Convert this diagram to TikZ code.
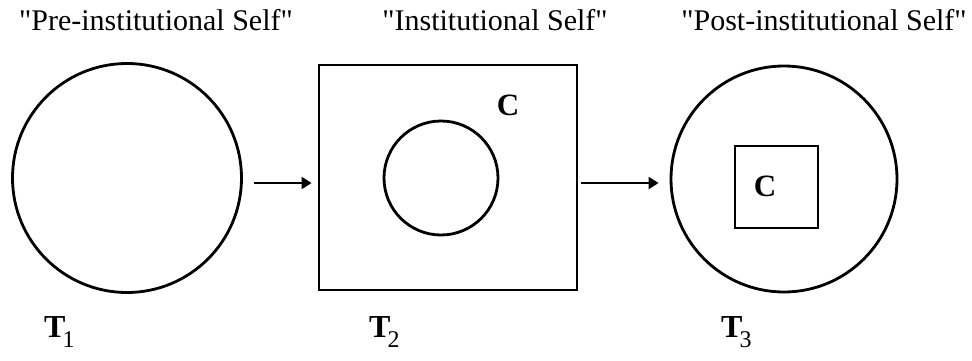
\documentclass[tikz,border=0pt]{standalone}
\usepackage{fontspec}
\setmainfont{Liberation Serif}[Ligatures=TeXOff]
\usetikzlibrary{arrows.meta}
\begin{document}
\begin{tikzpicture}[x=1pt,y=-1pt,
  shape line/.style={draw=black, line width=2.8pt, inner sep=0pt},
  bigcirc/.style={shape line, circle},
  box/.style={shape line, rectangle},
  arr/.style={draw=black, line width=2.2pt, -{Triangle[length=10pt,width=12pt]}},
  title/.style={font=\fontsize{30}{34}\selectfont, anchor=base, inner sep=0pt},
  clabel/.style={font=\fontsize{31}{34}\selectfont\bfseries, inner sep=0pt},
  tlabel/.style={anchor=base west, inner sep=0pt}
]
\useasboundingbox (0,0) rectangle (972,361);
% titles
\node[title] (h1) at (156,31) {"Pre-institutional Self"};
\node[title] (h2) at (495,31) {"Institutional Self"};
\node[title] (h3) at (824,31) {"Post-institutional Self"};
% T1
\node[bigcirc, minimum size=229pt] (c1) at (127,178) {};
% T2
\node[box, minimum width=258pt, minimum height=225pt] (sq) at (448,177.5) {};
\node[bigcirc, minimum size=114pt] (ic) at (441,178) {};
\node[clabel] (cA) at (508,105) {C};
% T3
\node[bigcirc, minimum size=226pt] (c3) at (784,179) {};
\node[box, minimum width=83pt, minimum height=82pt] (isq) at (776.5,187) {};
\node[clabel] (cB) at (765,186) {C};
% arrows
\draw[arr, shorten <=11pt, shorten >=6pt] ([yshift=-5pt]c1.east) -- ([yshift=-5.5pt]sq.west);
\draw[arr, shorten <=3pt, shorten >=11pt] ([yshift=-5.5pt]sq.east) -- ([yshift=-4pt]c3.west);
% time labels
\node[tlabel] (t1) at (44,337) {\fontsize{32}{34}\selectfont\bfseries T\kern-3pt\raisebox{-10pt}{\fontsize{24}{28}\selectfont\mdseries 1}};
\node[tlabel] (t2) at (369,337) {\fontsize{32}{34}\selectfont\bfseries T\kern-3pt\raisebox{-10pt}{\fontsize{24}{28}\selectfont\mdseries 2}};
\node[tlabel] (t3) at (721,337) {\fontsize{32}{34}\selectfont\bfseries T\kern-3pt\raisebox{-10pt}{\fontsize{24}{28}\selectfont\mdseries 3}};
\end{tikzpicture}
\end{document}
